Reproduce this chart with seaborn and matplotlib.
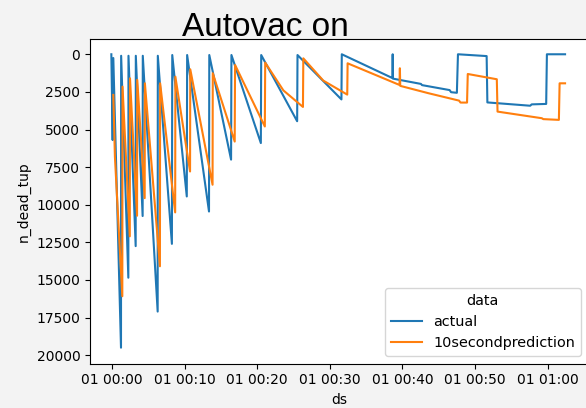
import numpy as np
import pandas as pd
import matplotlib
matplotlib.use("Agg")
import matplotlib.pyplot as plt
import matplotlib.dates as mdates
import seaborn as sns

# --- data (minutes after midnight, n_dead_tup) ---
actual_min = [-0.09, 0.09, 0.18, 1.24, 1.26, 2.25, 2.27, 3.26, 3.28, 4.22, 4.24,
              6.29, 6.31, 8.25, 8.30, 10.30, 10.35, 13.36, 13.40, 16.40, 16.45,
              20.50, 20.55, 25.50, 25.55, 31.60, 31.65, 38.62, 38.66, 38.70,
              42.55, 42.70, 46.50, 46.70, 47.50, 47.65, 51.60, 51.70, 57.60,
              57.80, 59.80, 59.90, 62.40]
actual_val = [0, 5700, 250, 19500, 100, 14850, 100, 12750, 100, 10750, 100,
              17100, 100, 12600, 50, 9450, 50, 10450, 50, 7000, 50,
              5900, 50, 4450, 50, 3000, 0, 1580, 0, 1620,
              1970, 2050, 2380, 2520, 2560, 0, 120, 3200, 3420,
              3330, 3300, 0, 0]

pred_min = [0.18, 0.40, 1.42, 1.45, 2.45, 2.48, 3.45, 3.48, 4.50, 4.53,
            6.60, 6.63, 8.70, 8.73, 10.75, 10.78, 13.85, 13.88, 16.90, 16.95,
            21.05, 21.10, 23.60, 26.30, 26.35, 29.10, 32.40, 32.45, 39.60,
            39.65, 39.70, 43.60, 47.80, 48.00, 48.90, 49.00, 53.00, 53.10,
            59.20, 59.40, 61.55, 61.65, 62.40]
pred_val = [2700, 6800, 16080, 2150, 12100, 1600, 10730, 1700, 9560, 1930,
            14090, 1930, 10510, 1490, 7790, 1000, 8670, 1260, 5800, 710,
            4800, 555, 2400, 3500, 270, 1750, 2680, 600, 2040,
            930, 2100, 2590, 3080, 3210, 3210, 1310, 1660, 3810,
            4250, 4310, 4360, 1930, 1930]

series_names = ["actual", "10secondprediction"]

base = pd.Timestamp("2021-01-01 00:00:00")
df = pd.concat([
    pd.DataFrame({"ds": base + pd.to_timedelta(actual_min, unit="min"),
                  "n_dead_tup": actual_val, "data": series_names[0]}),
    pd.DataFrame({"ds": base + pd.to_timedelta(pred_min, unit="min"),
                  "n_dead_tup": pred_val, "data": series_names[1]}),
], ignore_index=True)

fig = plt.figure(figsize=(5.86, 4.08), dpi=100, facecolor="#f3f3f3")
ax = fig.add_axes([90 / 586, 1 - 363.5 / 408, 498 / 586, 324.5 / 408])
ax.set_facecolor("white")

sns.lineplot(data=df, x="ds", y="n_dead_tup", hue="data", hue_order=series_names,
             sort=False, estimator=None, linewidth=1.5, ax=ax)

ax.set_ylim(20551, -1015)
ax.set_xlim(base + pd.Timedelta(minutes=-3.03), base + pd.Timedelta(minutes=65.56))
ax.xaxis.set_major_locator(mdates.MinuteLocator(byminute=range(0, 60, 10)))
ax.xaxis.set_major_formatter(mdates.DateFormatter("%d %H:%M"))
ax.set_yticks(np.arange(0, 20001, 2500))
ax.tick_params(labelsize=10)
ax.set_xlabel("ds", fontsize=10)
ax.set_ylabel("n_dead_tup", fontsize=10)

sns.move_legend(ax, "lower right", title="data", fontsize=10.4,
                title_fontsize=10.4, handlelength=2.15)

fig.text(265 / 586, 1 - 35.7 / 408, "Autovac on", ha="center", va="baseline",
         fontsize=24, family="Liberation Sans", color="black")

fig.savefig("out.png", dpi=100, facecolor=fig.get_facecolor())
